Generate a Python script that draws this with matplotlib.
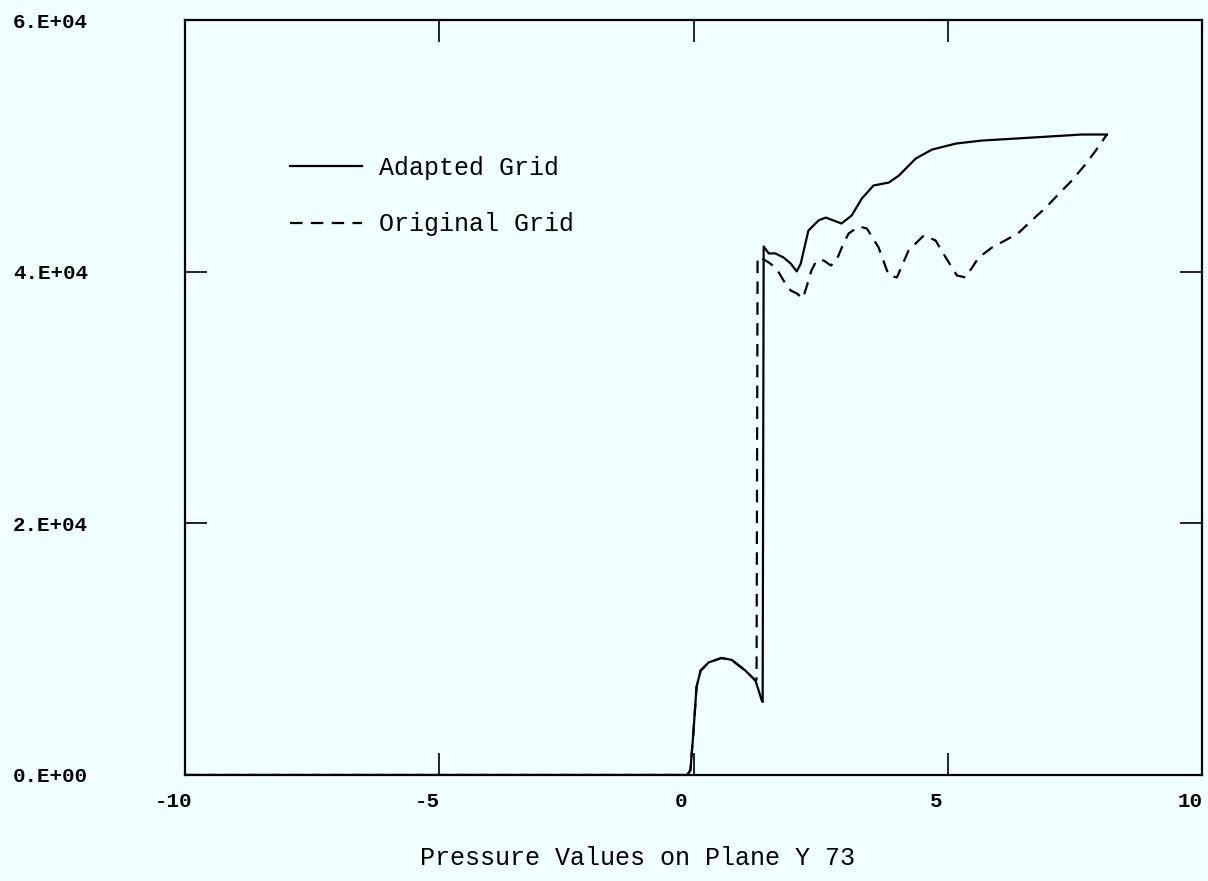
import matplotlib
matplotlib.use("Agg")
import matplotlib.pyplot as plt
from matplotlib.transforms import ScaledTranslation

plt.rcParams['font.family'] = ['Liberation Mono', 'DejaVu Sans Mono']
plt.rcParams['lines.scale_dashes'] = False

# adapted grid (solid)
adapted_x = [-10, -0.12, -0.06, 0.0, 0.06, 0.14, 0.30, 0.55, 0.75, 1.02, 1.22, 1.34, 1.36,
             1.38, 1.48, 1.61, 1.77, 1.91, 2.03, 2.11, 2.20, 2.26, 2.46, 2.60, 2.91, 3.11,
             3.31, 3.54, 3.84, 4.04, 4.37, 4.69, 5.16, 5.67, 6.34, 6.99, 7.64, 8.13]
adapted_y = [0, 0, 400, 3500, 7000, 8300, 8950, 9300, 9150, 8300, 7500, 5950, 5800,
             42000, 41450, 41450, 41130, 40650, 40020, 40650, 42240, 43270, 44070, 44300, 43830, 44460,
             45810, 46850, 47080, 47640, 48990, 49700, 50180, 50420, 50580, 50740, 50900, 50900]

# original grid (dashed)
original_x = [-10, -0.12, -0.06, 0.0, 0.06, 0.14, 0.30, 0.55, 0.75, 1.02, 1.22, 1.24,
              1.26, 1.32, 1.48, 1.63, 1.77, 1.91, 2.03, 2.15, 2.22, 2.32, 2.42, 2.56, 2.70,
              2.81, 2.95, 3.05, 3.25, 3.41, 3.64, 3.84, 4.00, 4.23, 4.53, 4.76, 4.96, 5.18,
              5.35, 5.61, 5.87, 6.20, 6.40, 6.65, 6.93, 7.19, 7.44, 7.72, 7.91, 8.13]
original_y = [0, 0, 400, 3500, 7000, 8300, 8950, 9300, 9150, 8300, 7500, 7600,
              41130, 41130, 40730, 40260, 39300, 38510, 38270, 37870, 38750, 40100, 40890, 40890, 40490,
              40890, 42240, 43030, 43590, 43430, 41920, 39700, 39540, 41690, 42880, 42480, 41130, 39700,
              39540, 41130, 41920, 42640, 43110, 44070, 45100, 46210, 47240, 48590, 49620, 50900]

xticks = [-10, -5, 0, 5, 10]
xticklabels = ['-10', '-5', '0', '5', '10']
yticks = [0, 20000, 40000, 60000]
yticklabels = ['0.E+00', '2.E+04', '4.E+04', '6.E+04']

bg = '#f0ffff'
fig = plt.figure(figsize=(12.08, 8.81), dpi=100, facecolor=bg)
ax = fig.add_axes([185/1208, 106/881, 1017/1208, 755/881], facecolor=bg)

ax.plot(adapted_x, adapted_y, color='black', lw=1.6, label='Adapted Grid')
ax.plot(original_x, original_y, color='black', lw=1.6, dashes=(9, 6), label='Original Grid')

ax.set_xlim(-10, 10)
ax.set_ylim(0, 60000)
ax.set_xticks(xticks)
ax.set_xticklabels(xticklabels, fontsize=15, fontweight='bold')
ax.set_yticks(yticks)
ax.set_yticklabels(yticklabels, fontsize=15, fontweight='bold')
ax.tick_params(axis='both', direction='in', length=16, width=1.2,
               top=True, right=True, color='black')
ax.tick_params(axis='y', pad=70)
ax.tick_params(axis='x', pad=12)
shift = ScaledTranslation(-12/100, 0, fig.dpi_scale_trans)
for lab in ax.get_xticklabels():
    lab.set_transform(lab.get_transform() + shift)
for s in ax.spines.values():
    s.set_linewidth(1.6)

ax.legend(loc='upper left', bbox_to_anchor=(0.103, 0.82), frameon=False,
          handlelength=2.9, handletextpad=0.65, labelspacing=1.3,
          borderpad=0, borderaxespad=0, prop={'size': 18})

fig.text(637/1208, (881-858)/881, 'Pressure Values on Plane Y 73', fontsize=18,
         ha='center', va='center')

fig.savefig('out.png', dpi=100, facecolor=bg)
